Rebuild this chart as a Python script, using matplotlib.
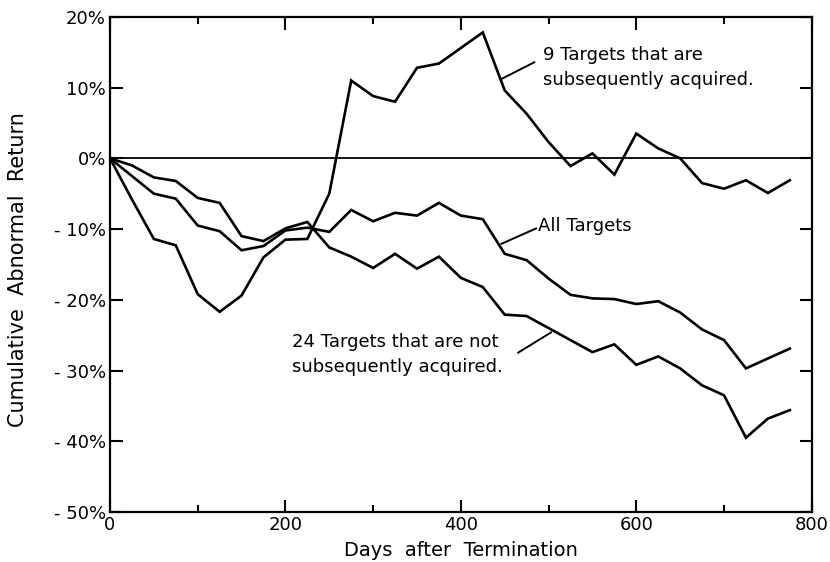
import matplotlib.pyplot as plt
from matplotlib.ticker import MultipleLocator

plt.rcParams['font.family'] = ['DejaVu Sans']

# days after termination, every 25 days
days = list(range(0, 800, 25))

# cumulative abnormal return (%)
nine_acq = [0, -5.8, -11.4, -12.3, -19.2, -21.7, -19.4, -14.0, -11.5, -11.4,
            -5.0, 11.0, 8.8, 8.0, 12.8, 13.4, 15.6, 17.8, 9.6, 6.3,
            2.3, -1.1, 0.7, -2.3, 3.5, 1.4, 0.0, -3.5, -4.3, -3.1,
            -4.9, -3.1]
all_targets = [0, -2.5, -5.0, -5.7, -9.5, -10.3, -13.0, -12.4, -10.2, -9.8,
               -10.4, -7.3, -8.9, -7.7, -8.1, -6.3, -8.1, -8.6, -13.5, -14.4,
               -17.0, -19.3, -19.8, -19.9, -20.6, -20.2, -21.8, -24.2, -25.7, -29.7,
               -28.3, -26.9]
not_acq = [0, -1.0, -2.7, -3.2, -5.6, -6.3, -11.0, -11.7, -9.9, -9.0,
           -12.6, -13.9, -15.5, -13.5, -15.6, -13.9, -16.9, -18.2, -22.1, -22.3,
           -24.0, -25.7, -27.4, -26.3, -29.2, -28.0, -29.7, -32.1, -33.5, -39.5,
           -36.8, -35.6]

yticks = [20, 10, 0, -10, -20, -30, -40, -50]
ylabels = ['20%', '10%', '0%', '- 10%', '- 20%', '- 30%', '- 40%', '- 50%']

fig = plt.figure(figsize=(8.3, 5.62), dpi=100)
ax = fig.add_axes([0.1325, 0.089, 0.8455, 0.881])

ax.axhline(0, color='black', lw=1.3)
for ser in (nine_acq, all_targets, not_acq):
    ax.plot(days, ser, color='black', lw=1.9, solid_joinstyle='miter')

ax.set_xlim(0, 800)
ax.set_ylim(-50, 20)
ax.xaxis.set_major_locator(MultipleLocator(200))
ax.xaxis.set_minor_locator(MultipleLocator(100))
ax.set_yticks(yticks)
ax.set_yticklabels(ylabels)
ax.tick_params(which='both', direction='in', top=True, right=True,
               width=1.5, labelsize=13, pad=3)
ax.tick_params(which='major', length=9)
ax.tick_params(which='minor', length=5)
for s in ax.spines.values():
    s.set_linewidth(1.6)

ax.set_xlabel('Days  after  Termination', fontsize=14, labelpad=5)
ax.set_ylabel('Cumulative  Abnormal  Return', fontsize=15)
ax.yaxis.set_label_coords(-0.117, 0.49)

# labels and leader lines
leader = dict(arrowstyle='-', lw=1.4, color='black', shrinkA=0, shrinkB=0)
ax.text(494, 12.9, '9 Targets that are\nsubsequently acquired.',
        fontsize=13, va='center', ha='left', linespacing=1.5)
ax.annotate('', xy=(446, 11.2), xytext=(484, 13.6), arrowprops=leader)

ax.text(488, -9.5, 'All Targets', fontsize=13, va='center', ha='left')
ax.annotate('', xy=(446, -12.1), xytext=(486, -9.9), arrowprops=leader)

ax.text(207, -27.8, '24 Targets that are not\nsubsequently acquired.',
        fontsize=13, va='center', ha='left', linespacing=1.5)
ax.annotate('', xy=(503, -24.6), xytext=(465, -27.5), arrowprops=leader)

fig.savefig('out.png', dpi=100)
